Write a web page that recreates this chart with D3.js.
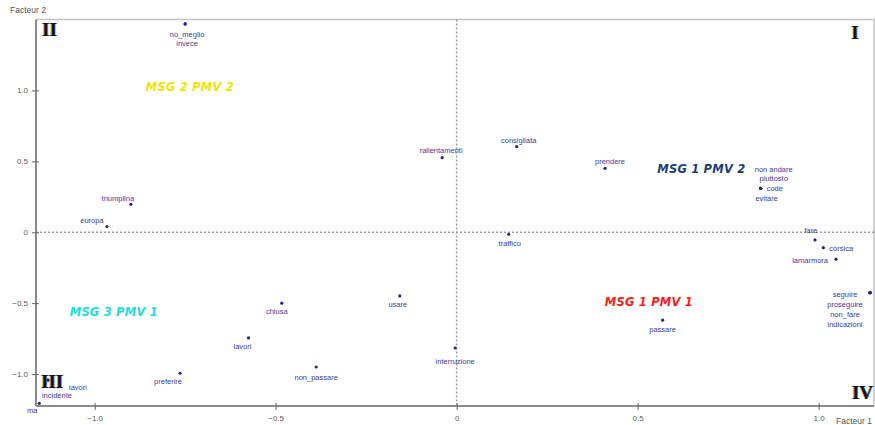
<!DOCTYPE html>
<html>
<head>
<meta charset="utf-8">
<script src="https://cdn.jsdelivr.net/npm/d3@7"></script>
<style>
  html, body { margin: 0; padding: 0; background: #fff; }
  svg { display: block; }
</style>
</head>
<body>
<svg id="chart" width="875" height="425"></svg>
<script>
// Correspondence analysis map: terms on factor 1 (x) and factor 2 (y)
const terms = [
  "no_meglio", "invece", "rallentamenti", "consigliata", "prendere", "traffico",
  "non  andare", "piuttosto", "code", "evitare",
  "fare", "corsica", "lamarmora",
  "seguire", "proseguire", "non_fare", "indicazioni",
  "passare", "triumplina", "europa", "chiusa", "usare", "lavori",
  "non_passare", "interruzione", "preferire",
  "lavori", "incidente", "ma"
];
const factor1 = [
  -0.750, -0.750, -0.040, 0.166, 0.410, 0.144,
  0.840, 0.840, 0.840, 0.840,
  0.990, 1.013, 1.048,
  1.142, 1.142, 1.142, 1.142,
  0.569, -0.900, -0.966, -0.483, -0.157, -0.575,
  -0.388, -0.004, -0.764,
  -1.129, -1.129, -1.153
];
const factor2 = [
  1.469, 1.469, 0.526, 0.604, 0.451, -0.014,
  0.310, 0.310, 0.310, 0.310,
  -0.054, -0.109, -0.190,
  -0.426, -0.426, -0.426, -0.426,
  -0.620, 0.197, 0.040, -0.500, -0.449, -0.745,
  -0.950, -0.816, -0.994,
  -1.042, -1.042, -1.206
];

// Group captions placed in the factor plane
const groupNames = ["MSG 2 PMV 2", "MSG 1 PMV 2", "MSG 1 PMV 1", "MSG 3 PMV 1"];
const groupF1 = [-0.737, 0.676, 0.531, -0.947];
const groupF2 = [1.023, 0.446, -0.491, -0.562];
const groupColors = ["#f0e400", "#1d3c78", "#ff1a1a", "#18e0e0"];

const xTicks = [-1.0, -0.5, 0, 0.5, 1.0];
const yTicks = [-1.0, -0.5, 0, 0.5, 1.0];
const quadrants = ["I", "II", "III", "IV"];

// Label placement around each point (dx, dy in px, anchor)
const labelPlacement = [
  [2, 13, "middle"], [2, 22, "middle"], [-1, -5, "middle"], [2, -4, "middle"], [5, -4, "middle"], [1, 12, "middle"],
  [13, -16, "middle"], [13, -7, "middle"], [6, 3, "start"], [6, 13, "middle"],
  [-4, -7, "middle"], [6, 3, "start"], [-8, 4, "end"],
  [-25, 4, "middle"], [-25, 14, "middle"], [-25, 24, "middle"], [-25, 34, "middle"],
  [0, 12, "middle"], [-13, -3, "middle"], [-15, -4, "middle"], [-5, 11, "middle"], [-2, 11, "middle"], [-6, 11, "middle"],
  [0, 13, "middle"], [0, 16, "middle"], [-12, 11, "middle"],
  [30, 10, "middle"], [9, 18, "middle"], [-7, 10, "middle"]
];

const svg = d3.select("#chart");
const plotLeft = 36, plotRight = 874, plotTop = 19.5, plotBottom = 406;

const x = d3.scaleLinear().domain([-1.162, 1.153]).range([plotLeft, plotRight]);
const y = d3.scaleLinear().domain([-1.225, 1.5]).range([plotBottom, plotTop]);

const fmt = d => d === 0 ? "0" : d3.format(".1f")(d);

// Frame: light top and right edges
svg.append("path")
  .attr("d", `M${plotLeft},${plotTop}H${plotRight}V${plotBottom}`)
  .attr("fill", "none").attr("stroke", "#c4c4c4").attr("stroke-width", 1.5);

// Dotted zero lines
svg.append("line")
  .attr("x1", plotLeft).attr("x2", plotRight).attr("y1", y(0)).attr("y2", y(0))
  .attr("stroke", "#9a9a9a").attr("stroke-width", 1.5).attr("stroke-dasharray", "2,2");
svg.append("line")
  .attr("x1", x(0)).attr("x2", x(0)).attr("y1", plotTop).attr("y2", plotBottom)
  .attr("stroke", "#9a9a9a").attr("stroke-width", 1.5).attr("stroke-dasharray", "2,2");

// Axes
const xAxis = d3.axisBottom(x).tickValues(xTicks).tickFormat(fmt).tickSizeInner(4).tickSizeOuter(0).tickPadding(5);
const yAxis = d3.axisLeft(y).tickValues(yTicks).tickFormat(fmt).tickSizeInner(4).tickSizeOuter(0).tickPadding(4);

const gx = svg.append("g").attr("transform", `translate(0,${plotBottom})`).call(xAxis);
const gy = svg.append("g").attr("transform", `translate(${plotLeft},0)`).call(yAxis);

[gx, gy].forEach(g => {
  g.select(".domain").attr("stroke", "#8a8a8a").attr("stroke-width", 2);
  g.selectAll(".tick line").attr("stroke", "#666").attr("stroke-width", 1);
  g.selectAll(".tick text")
    .attr("fill", "#5a5a5a").style("font-family", "Liberation Sans, Arial, sans-serif").style("font-size", "8px");
});
gx.selectAll(".tick line").attr("y1", -3).attr("y2", 4);
gy.selectAll(".tick line").attr("x1", 3).attr("x2", -4);
gx.select(".domain").attr("d", `M${plotLeft},0H${plotRight}`);
gy.select(".domain").attr("d", `M0,${plotTop}V${plotBottom}`);

// Axis titles
svg.append("text").attr("x", 10).attr("y", 13)
  .attr("fill", "#555").style("font-family", "Liberation Sans, Arial, sans-serif").style("font-size", "8.5px")
  .text("Facteur 2");
svg.append("text").attr("x", 836).attr("y", 424)
  .attr("fill", "#555").style("font-family", "Liberation Sans, Arial, sans-serif").style("font-size", "8.5px")
  .text("Facteur 1");

// Group captions
const gg = svg.append("g").style("font-family", "DejaVu Sans, Verdana, sans-serif")
  .style("font-size", "11.5px").style("font-weight", "bold").style("font-style", "italic");
groupNames.forEach((name, i) => {
  gg.append("text")
    .attr("x", x(groupF1[i])).attr("y", y(groupF2[i]) + 4)
    .attr("text-anchor", "middle").attr("fill", groupColors[i])
    .style("letter-spacing", "0.2px")
    .text(name);
});

// Points and their labels
const pts = svg.append("g");
terms.forEach((t, i) => {
  const px = x(factor1[i]), py = y(factor2[i]);
  pts.append("circle").attr("cx", px).attr("cy", py).attr("r", 1.6).attr("fill", "#24248c");
  const [dx, dy, anchor] = labelPlacement[i];
  pts.append("text")
    .attr("x", px + dx).attr("y", py + dy)
    .attr("text-anchor", anchor)
    .attr("fill", "#3b3ba0")
    .style("font-family", "Liberation Sans, Arial, sans-serif").style("font-size", "7.5px")
    .text(t);
});

// Quadrant numerals pinned to the frame corners
const quadPos = {
  "I":   [855, 39, "middle"],
  "II":  [42, 36, "start"],
  "III": [41, 388, "start"],
  "IV":  [873, 399, "end"]
};
const qg = svg.append("g").style("font-family", "Liberation Serif, Times New Roman, serif")
  .style("font-weight", "bold").style("font-size", "19px");
quadrants.forEach(q => {
  const [qx, qy, anchor] = quadPos[q];
  qg.append("text").attr("x", qx - 0.8).attr("y", qy).attr("text-anchor", anchor).attr("fill", "#e08a2a").attr("opacity", 0.8).text(q);
  qg.append("text").attr("x", qx + 0.8).attr("y", qy).attr("text-anchor", anchor).attr("fill", "#3a7ad8").attr("opacity", 0.8).text(q);
  qg.append("text").attr("x", qx).attr("y", qy).attr("text-anchor", anchor).attr("fill", "#111").text(q);
});
</script>
</body>
</html>
